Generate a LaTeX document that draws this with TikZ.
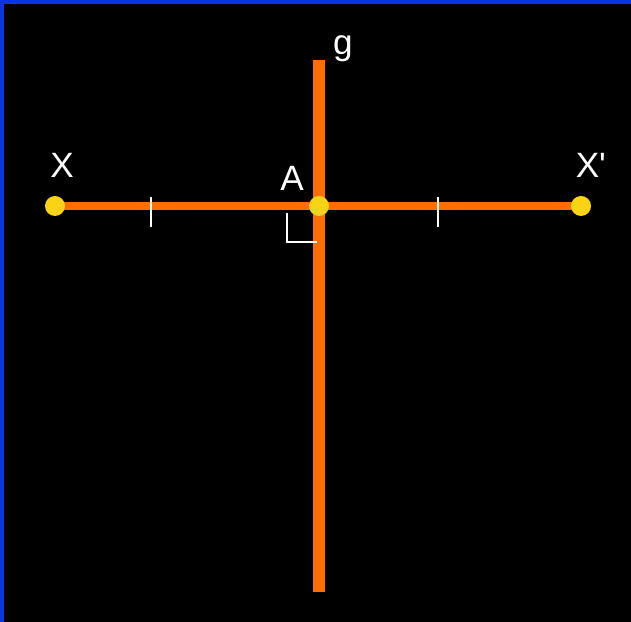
\documentclass[tikz,border=0pt]{standalone}
\usepackage{fontspec}
\setmainfont{Liberation Sans}[Ligatures=TeXOff]
\definecolor{segorange}{HTML}{FF6E00}
\definecolor{dotyellow}{HTML}{F9D414}
\definecolor{frameblue}{HTML}{0A36E0}
\begin{document}
\begin{tikzpicture}[x=0.025cm, y=-0.025cm,
        dot/.style = {circle, fill=dotyellow, inner sep=0pt, minimum size=0.5cm},
        lbl/.style = {inner sep=0pt, text=white, font=\fontsize{25}{30}\selectfont},
        every label/.append style = {lbl},
        seg/.style = {segorange, line width=6pt},
        tickmark/.style = {white, line width=1.5pt}
    ]
        % background and frame
        \fill[black] (0,0) rectangle (631,622);
        \fill[frameblue] (0,0) rectangle (4,622);
        \fill[frameblue] (0,0) rectangle (631,4);
        % points
        \coordinate (X) at (55,206);
        \coordinate (A) at (319,206);
        \coordinate (Xp) at (581,206);
        \coordinate (gtop) at (319,60);
        \coordinate (gbot) at (319,592);
        % line g and segment XX'
        \draw[seg, line width=8.5pt] (gtop) -- (gbot);
        \draw[seg] (X) -- (Xp);
        \node[lbl, anchor=base] (g) at (343,55) {g};
        % equal parts and right angle
        \draw[tickmark] (151,197) -- (151,227);
        \draw[tickmark] (438,197) -- (438,227);
        \draw[tickmark] (287,213) -- (287,242) -- (317,242);
        \node[dot, label={[label distance=0.45cm, xshift=5]above:X}] (Xdot) at (X) {};
        \node[dot, label={[label distance=0.27cm]above left:A}] (Adot) at (A) {};
        \node[dot, label={[label distance=0.45cm, xshift=7]above:X'}] (Xpdot) at (Xp) {};
    \end{tikzpicture}
\end{document}
